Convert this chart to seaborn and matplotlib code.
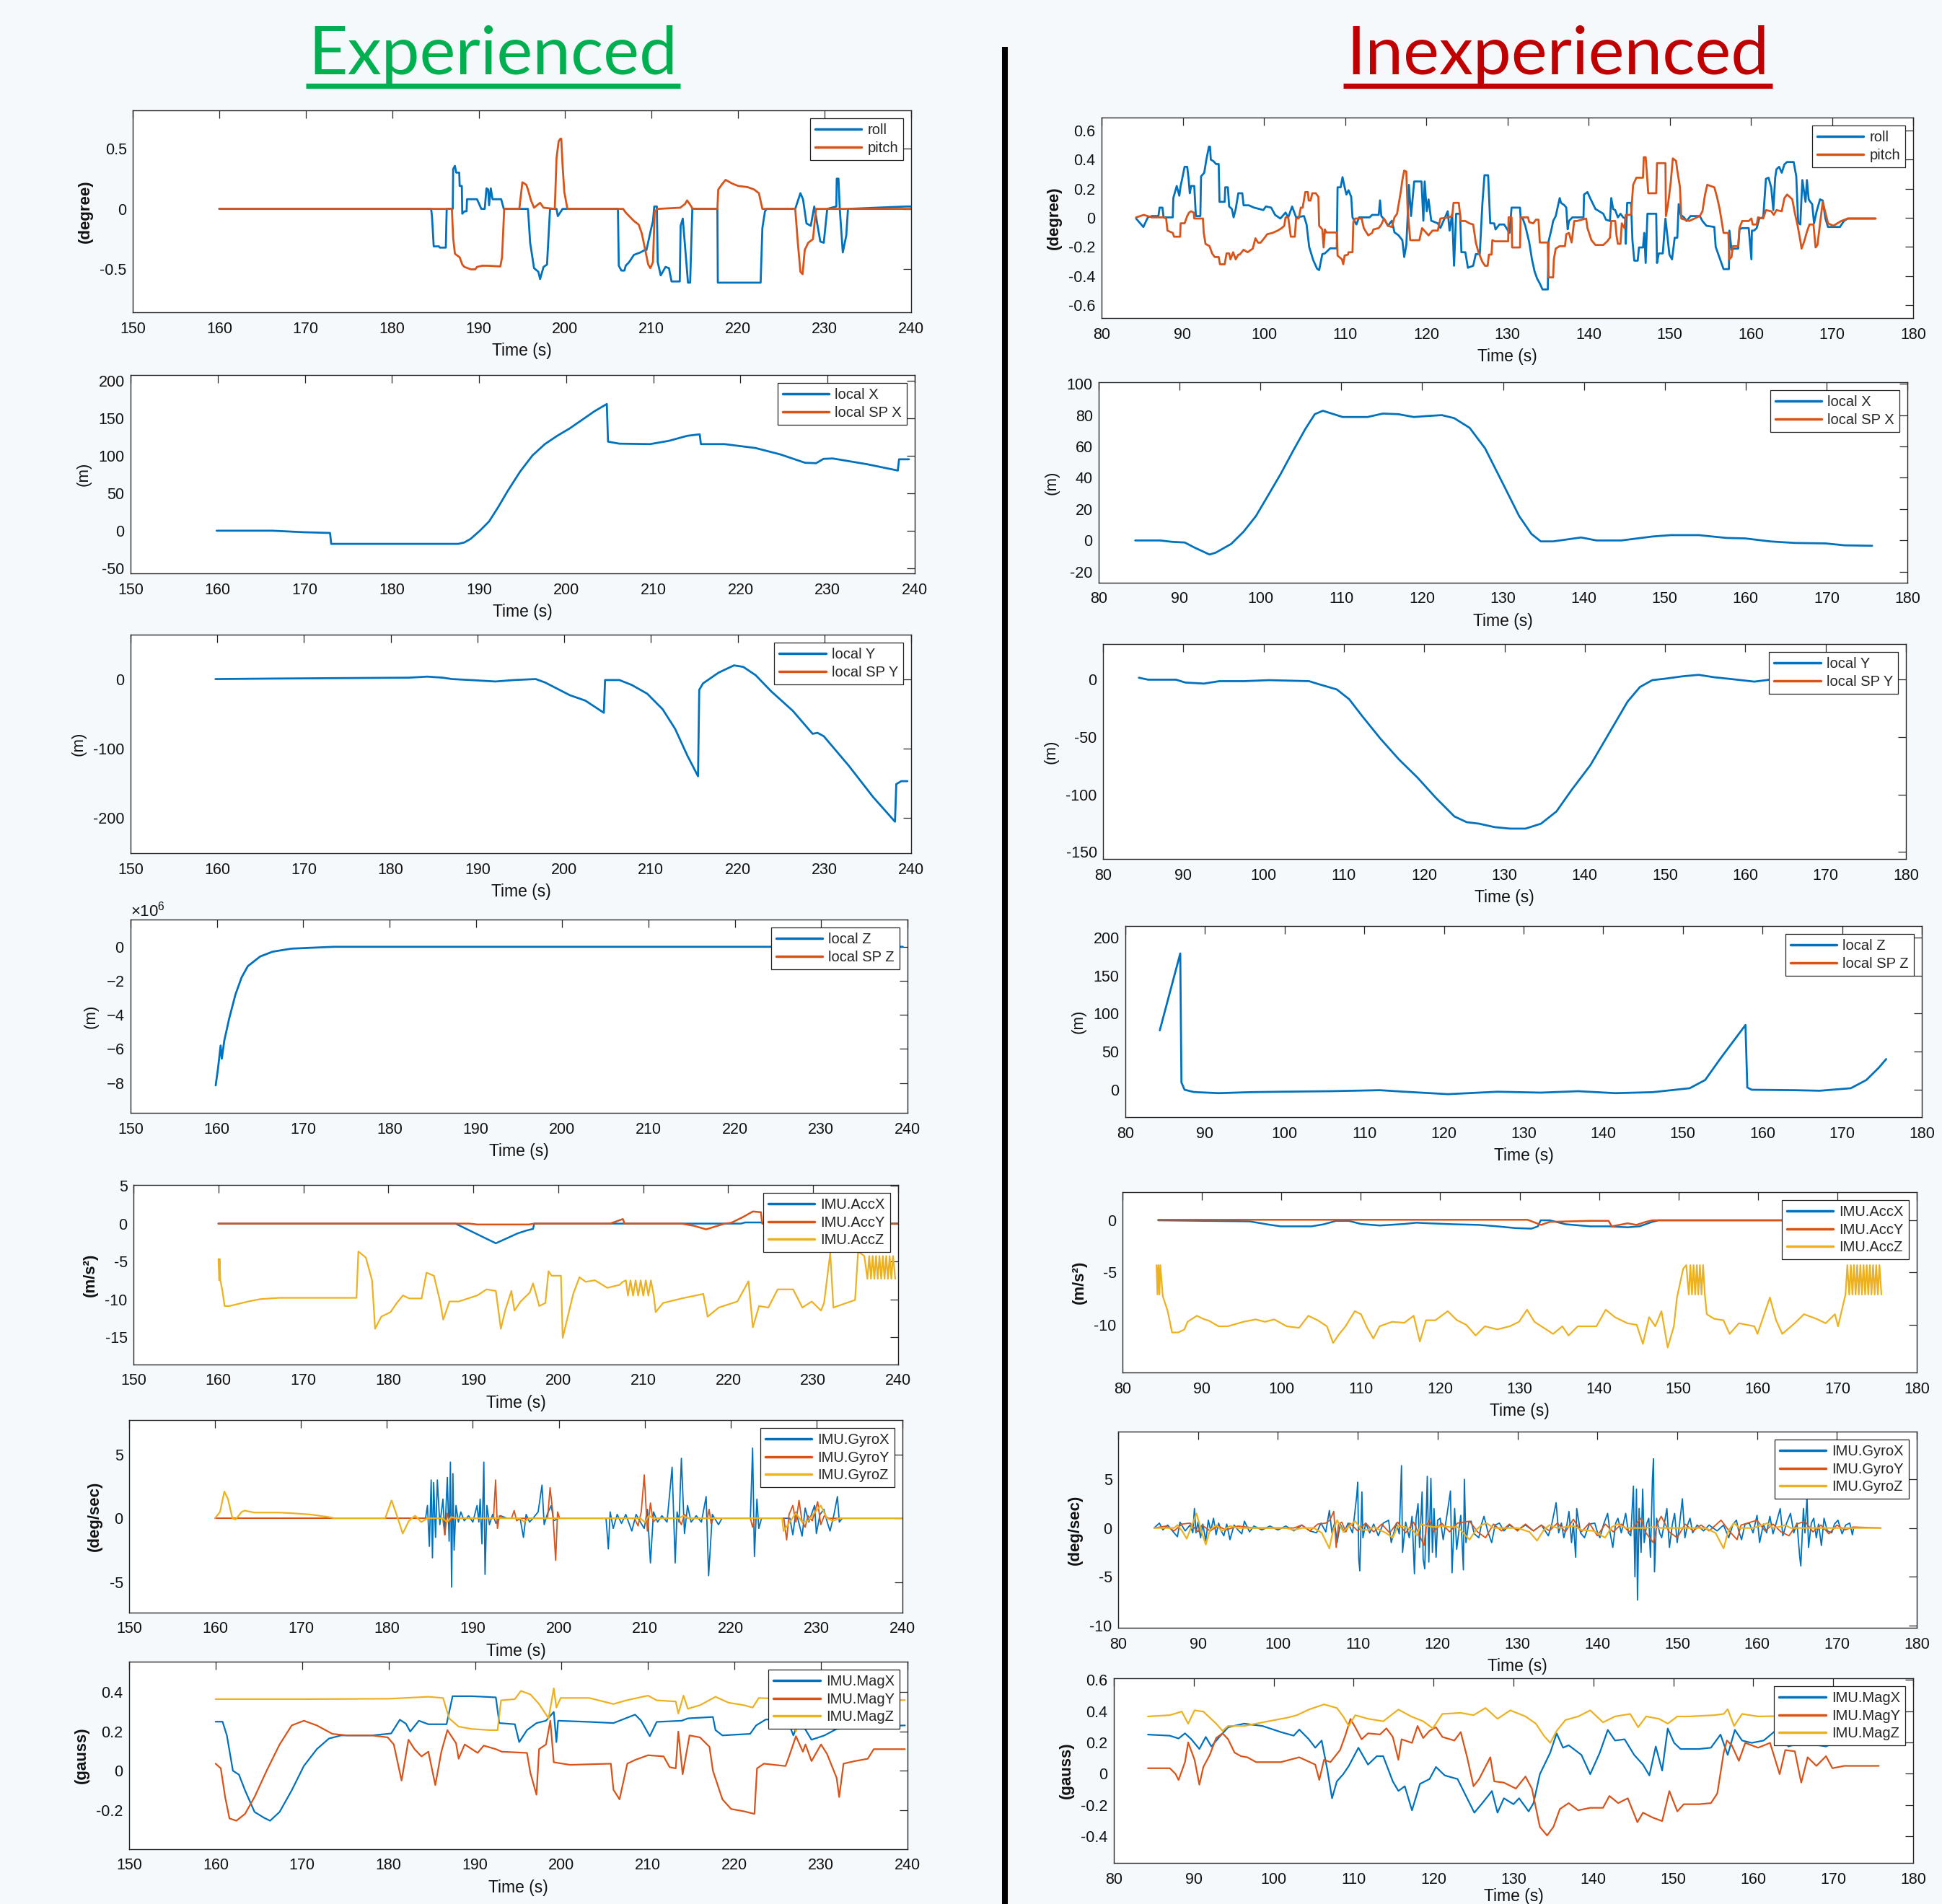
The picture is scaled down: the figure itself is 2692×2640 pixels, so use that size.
import numpy as np
import pandas as pd
import matplotlib
matplotlib.use("Agg")
import matplotlib.pyplot as plt
from matplotlib.lines import Line2D
from matplotlib.ticker import FuncFormatter, ScalarFormatter
import seaborn as sns

# ---------------- data (time s, value) ----------------
exp_roll = [(160,0),(184.5,0),(184.6,-0.06),(184.8,-0.31),(185.4,-0.31),(185.5,-0.32),(186.2,-0.32),(186.3,0),(187.0,0),(187.05,0.33),(187.25,0.356),(187.4,0.30),(187.75,0.30),(187.8,0.19),(188.05,0.19),(188.1,-0.04),(188.35,-0.02),(188.6,-0.02),(188.65,0.08),(189.8,0.08),(190.0,0.05),(190.3,0.0),(190.7,0.0),(190.9,0.17),(191.1,0.16),(191.2,0.03),(191.4,0.17),(191.6,0.08),(192.6,0.08),(192.9,0.0),(195.7,0),(195.95,-0.28),(196.4,-0.49),(196.9,-0.52),(197.1,-0.58),(197.5,-0.48),(197.9,-0.46),(198.25,0),(199.0,0),(199.15,-0.06),(199.7,0),(206.1,0),(206.2,-0.47),(206.5,-0.51),(206.85,-0.51),(207.0,-0.47),(207.4,-0.44),(207.95,-0.38),(208.7,-0.36),(209.2,-0.34),(209.4,-0.34),(209.95,-0.16),(210.15,-0.10),(210.3,0.02),(210.6,0.02),(210.7,-0.44),(211.05,-0.55),(211.6,-0.48),(212.0,-0.49),(212.3,-0.6),(213.25,-0.6),(213.35,-0.14),(213.6,-0.08),(214.2,-0.61),(214.45,-0.61),(214.7,0),(217.6,0),(217.65,-0.61),(222.6,-0.61),(222.8,-0.16),(223.1,-0.02),(223.3,0),(226.6,0),(227.2,0.13),(227.5,0.08),(227.9,-0.12),(228.4,-0.14),(228.8,0.02),(229.5,-0.27),(229.9,-0.28),(230.3,0),(231.35,0.02),(231.4,0.25),(231.6,0.25),(231.75,0),(232.1,-0.36),(232.5,-0.22),(232.7,0),(239.4,0.02),(240,0.02)]
exp_pitch = [(160,0),(186.9,0),(187.05,-0.24),(187.25,-0.37),(187.6,-0.39),(187.8,-0.40),(188.1,-0.46),(188.35,-0.48),(189.1,-0.50),(189.6,-0.50),(189.8,-0.48),(190.4,-0.47),(191.1,-0.47),(192.5,-0.476),(192.7,-0.40),(192.95,0),(194.7,0),(195.05,0.22),(195.5,0.20),(195.7,0.16),(196.05,0.07),(196.4,0.01),(197.1,0.05),(197.5,0.01),(198.8,0),(199.0,0.42),(199.25,0.56),(199.45,0.58),(199.55,0.58),(199.7,0.36),(199.9,0.14),(200.26,0),(206.7,0),(207.0,-0.03),(207.4,-0.06),(207.95,-0.10),(208.5,-0.13),(208.85,-0.20),(209.2,-0.32),(209.6,-0.46),(209.85,-0.49),(210.15,-0.44),(210.35,-0.02),(210.7,0),(213.3,0.01),(213.85,0.04),(214.1,0.07),(214.4,0.04),(214.75,0),(217.6,0),(217.7,0.16),(218.2,0.21),(218.55,0.24),(219.3,0.21),(220.0,0.19),(221.1,0.18),(221.85,0.16),(222.4,0.13),(222.8,0),(226.6,0),(226.9,-0.28),(227.2,-0.52),(227.45,-0.54),(227.7,-0.34),(228.1,-0.28),(228.65,-0.25),(229.0,0),(240,0)]

inx_roll = [(84.25,-0.005),(85.15,-0.063),(85.7,0.003),(86.2,0.012),(87.0,0.012),(87.15,0.07),(87.5,0.07),(87.64,0.003),(88.77,0.003),(88.84,0.136),(89.26,0.219),(89.58,0.152),(89.74,0.219),(89.9,0.26),(90.23,0.351),(90.55,0.351),(90.71,0.276),(90.87,0.169),(91.03,0.219),(91.42,0.219),(91.62,0.012),(92.17,0.012),(92.26,0.285),(92.65,0.31),(92.91,0.40),(93.23,0.49),(93.36,0.49),(93.46,0.40),(93.78,0.39),(94.11,0.37),(94.43,0.37),(94.53,0.11),(95.17,0.11),(95.24,0.21),(95.56,0.21),(95.72,0.078),(96.05,0.061),(96.27,0.003),(96.53,0.061),(96.85,0.169),(97.34,0.169),(97.5,0.086),(98.15,0.086),(98.79,0.07),(99.44,0.061),(99.93,0.053),(100.25,0.078),(100.9,0.07),(101.38,0.02),(102.03,-0.005),(102.67,0.036),(103.0,0.003),(103.48,0.078),(103.97,0.003),(104.94,0.012),(105.26,-0.046),(105.58,-0.2),(106.07,-0.29),(106.55,-0.35),(106.81,-0.36),(107.2,-0.25),(107.52,-0.245),(108.17,-0.21),(108.98,-0.21),(109.08,0.21),(109.46,0.21),(109.69,0.28),(109.95,0.21),(110.17,0.16),(110.43,0.19),(110.76,0.144),(110.92,0.003),(111.4,-0.046),(111.73,0.003),(113.02,0.003),(113.34,0.02),(114.15,0.02),(114.31,0.12),(114.47,0.012),(114.96,-0.02),(115.28,-0.055),(115.77,-0.02),(116.09,-0.10),(116.58,-0.12),(117.06,-0.154),(117.29,-0.27),(117.55,-0.187),(117.71,0.003),(117.87,0.227),(118.13,0.012),(118.52,0.25),(119.42,0.25),(119.65,-0.02),(119.81,0.25),(120.07,0.045),(120.29,0.127),(120.62,-0.02),(121.43,-0.038),(121.75,-0.07),(122.65,0.045),(122.88,-0.088),(123.2,0.028),(123.43,-0.33),(123.69,0.028),(124.17,0.028),(124.34,-0.237),(124.82,-0.237),(125.14,-0.344),(125.79,-0.33),(126.11,-0.25),(126.6,-0.25),(126.92,0.094),(127.18,0.293),(127.63,0.293),(127.89,-0.038),(128.38,-0.038),(128.54,-0.08),(129.02,-0.046),(129.61,-0.046),(130.26,-0.104),(130.52,0.07),(131.56,0.07),(131.63,0.003),(131.89,-0.005),(132.21,-0.055),(132.7,-0.17),(133.03,-0.286),(133.36,-0.37),(133.68,-0.42),(134.0,-0.452),(134.33,-0.493),(134.98,-0.493),(135.08,-0.162),(135.47,-0.071),(135.64,-0.022),(135.96,0.012),(136.45,0.136),(136.61,0.103),(137.04,0.086),(137.26,0.07),(137.43,-0.079),(137.59,-0.022),(138.01,0.003),(139.38,0.003),(139.45,0.16),(139.87,0.177),(140.2,0.136),(140.85,0.061),(141.82,0.028),(142.15,-0.013),(142.64,-0.022),(142.8,0.136),(143.03,0.061),(143.29,0.053),(143.62,0.003),(143.94,0.028),(144.27,0.003),(144.53,-0.005),(144.59,-0.179),(144.76,0.103),(145.24,0.103),(145.41,-0.154),(145.64,-0.295),(146.06,-0.295),(146.22,-0.204),(146.71,-0.204),(146.87,-0.104),(147.04,-0.311),(147.26,0.028),(148.34,0.028),(148.44,-0.311),(148.66,-0.245),(149.15,-0.245),(149.48,-0.005),(149.97,-0.253),(150.29,-0.286),(150.62,-0.137),(150.94,-0.137),(151.11,0.094),(151.37,0.02),(151.76,0.003),(152.08,-0.022),(152.57,0.012),(153.71,0.012),(154.04,-0.022),(154.53,-0.055),(155.5,-0.063),(155.67,-0.2),(156.64,-0.353),(157.3,-0.353),(157.36,-0.088),(157.62,-0.22),(157.95,-0.212),(158.44,-0.212),(158.6,-0.079),(158.93,-0.071),(159.74,-0.071),(160.07,-0.286),(160.13,-0.088),(160.39,-0.088),(160.72,-0.071),(161.04,-0.005),(161.53,0.003),(161.86,0.268),(162.18,0.276),(162.51,0.21),(162.77,0.053),(163.0,0.276),(163.16,0.334),(163.49,0.351),(163.81,0.31),(164.14,0.368),(164.46,0.384),(165.28,0.384),(165.6,0.285),(165.83,-0.03),(166.09,-0.046),(166.35,0.26),(166.74,0.11),(166.91,0.26),(167.13,0.127),(167.33,0.11),(167.56,0.094),(167.79,-0.038),(168.11,0.045),(168.53,0.127),(168.86,0.119),(169.19,-0.005),(169.51,-0.063),(170.98,-0.063),(171.47,-0.022),(171.95,-0.005),(175.37,-0.005)]
inx_pitch = [(84.25,0.003),(85.21,0.02),(86.18,0.003),(87.64,0.003),(87.96,-0.005),(88.12,-0.088),(88.77,-0.104),(88.93,-0.13),(89.68,-0.13),(89.74,-0.038),(90.23,-0.038),(90.55,0.012),(90.78,0.036),(91.03,0.045),(91.36,0.036),(91.42,-0.005),(92.49,-0.005),(92.59,-0.104),(92.81,-0.18),(93.3,-0.195),(93.62,-0.245),(93.94,-0.27),(94.43,-0.27),(94.59,-0.32),(95.17,-0.32),(95.4,-0.245),(95.72,-0.245),(95.88,-0.286),(96.21,-0.237),(96.53,-0.286),(96.85,-0.253),(97.02,-0.253),(97.5,-0.22),(97.99,-0.237),(98.63,-0.212),(98.96,-0.141),(99.28,-0.171),(99.6,-0.171),(100.09,-0.137),(100.41,-0.113),(101.06,-0.104),(101.7,-0.088),(102.19,-0.071),(102.51,-0.055),(102.67,0.003),(103.0,0.003),(103.32,-0.13),(103.81,-0.13),(103.97,-0.005),(104.29,-0.005),(104.55,0.07),(104.78,0.07),(105.1,0.177),(105.42,0.177),(105.52,0.119),(105.75,0.119),(105.97,0.169),(106.39,0.169),(106.72,0.144),(106.81,-0.055),(107.2,-0.08),(107.36,-0.204),(107.52,-0.08),(107.69,-0.101),(108.98,-0.101),(109.08,-0.26),(109.62,-0.286),(109.78,-0.32),(109.95,-0.26),(110.37,-0.253),(110.43,-0.237),(110.92,-0.237),(111.02,-0.03),(111.24,-0.005),(112.05,-0.005),(112.31,-0.071),(112.86,-0.121),(113.34,-0.104),(113.5,-0.08),(114.15,-0.071),(114.47,-0.046),(114.8,-0.005),(115.28,-0.055),(115.77,-0.063),(116.09,0.003),(116.41,0.028),(116.9,0.19),(117.06,0.26),(117.29,0.325),(117.55,0.318),(117.71,0.061),(118.03,-0.154),(119.16,-0.154),(119.49,-0.071),(120.29,-0.121),(120.78,-0.088),(121.43,-0.088),(121.75,-0.005),(122.72,0.003),(123.2,0.012),(123.37,0.103),(124.01,0.103),(124.27,-0.022),(124.82,-0.022),(125.31,-0.038),(125.79,-0.046),(126.11,-0.17),(126.44,-0.237),(126.92,-0.303),(127.25,-0.33),(127.57,-0.33),(127.73,-0.253),(128.05,-0.253),(128.15,-0.154),(128.47,-0.162),(130.1,-0.162),(130.15,0.003),(130.52,0.003),(130.59,-0.204),(131.56,-0.204),(131.63,0.003),(132.54,0.003),(132.7,-0.03),(133.19,-0.038),(133.52,-0.013),(133.84,-0.013),(134.0,-0.17),(134.98,-0.17),(135.08,-0.41),(135.64,-0.41),(135.73,-0.286),(135.96,-0.212),(136.45,-0.195),(137.1,-0.195),(137.26,-0.113),(137.59,-0.104),(137.92,-0.17),(138.24,-0.022),(138.57,-0.022),(139.71,-0.005),(139.87,-0.071),(140.36,-0.154),(140.85,-0.187),(141.82,-0.187),(142.31,-0.162),(142.64,-0.137),(142.8,-0.022),(143.29,-0.022),(143.45,-0.121),(143.62,-0.179),(143.94,-0.179),(144.1,-0.038),(144.43,-0.071),(144.59,0.02),(145.24,0.02),(145.5,0.227),(145.9,0.276),(146.71,0.276),(146.81,0.417),(147.04,0.417),(147.2,0.30),(147.36,0.169),(148.34,0.169),(148.44,0.376),(149.48,0.376),(149.54,0.012),(149.8,0.094),(150.13,0.243),(150.39,0.409),(150.78,0.392),(150.94,0.326),(151.27,0.21),(151.43,-0.005),(152.41,-0.022),(153.06,-0.005),(153.71,0.012),(154.04,0.045),(154.36,0.16),(154.63,0.227),(155.5,0.21),(155.83,0.144),(156.16,0.061),(156.64,-0.104),(157.23,-0.104),(157.36,-0.286),(157.62,-0.27),(157.79,-0.195),(158.44,-0.195),(158.6,-0.071),(158.93,-0.022),(159.74,-0.022),(160.07,-0.005),(160.23,-0.046),(160.72,-0.046),(160.88,0.003),(161.53,-0.005),(161.86,0.053),(162.51,0.045),(162.83,0.02),(163.16,0.053),(163.81,0.045),(164.14,0.136),(164.46,0.16),(164.79,0.144),(165.11,0.127),(165.44,0.028),(165.77,-0.055),(166.09,-0.154),(166.25,-0.212),(166.58,-0.162),(166.91,-0.096),(167.23,-0.046),(167.72,-0.046),(167.98,-0.204),(168.21,-0.187),(168.53,-0.038),(168.86,0.11),(169.19,0.036),(169.51,-0.038),(170.16,-0.055),(171.14,-0.022),(171.95,-0.005),(175.37,-0.005)]

exp_localx = [(159.88,0),(166.28,0),(169.83,-2),(172.89,-3),(173.03,-17.6),(187.6,-17.6),(188.31,-15.7),(189.02,-11),(190.09,0),(191.15,12.4),(192.22,32),(193.28,53),(194.71,79),(196.13,100.6),(197.55,115.7),(198.97,126.8),(200.39,136.6),(201.81,148),(203.23,159.5),(204.66,169.3),(204.8,119),(206.08,116.3),(209.63,115.7),(211.76,120),(213.9,126.8),(215.32,128.8),(215.46,115.7),(218.16,115.7),(221.71,110.5),(224.56,102),(227.4,90.8),(228.68,90.2),(229.53,96),(230.6,96.5),(234.5,88.9),(238.06,80.4),(238.2,95.4),(239.34,95.4)]
exp_localy = [(159.79,0),(166.36,0.7),(182.07,2),(184.21,3.5),(186.0,2),(187.07,0),(189.21,-1.4),(192.07,-3.5),(194.21,-1.4),(196.71,0),(197.79,-4.9),(199.21,-14),(200.64,-23.2),(202.43,-31),(204.57,-48.6),(204.71,-1.4),(206.36,-1.4),(207.79,-8.5),(209.57,-21.1),(211.36,-43.7),(212.79,-71.8),(214.21,-110.6),(215.43,-140.1),(215.57,-15.5),(216.0,-6.3),(217.79,9.2),(219.57,19.7),(220.64,17.6),(222.07,5.6),(223.86,-17.6),(226.36,-45.8),(228.64,-78.9),(229.21,-77.5),(229.93,-82.4),(232.79,-124.6),(235.64,-170.4),(238.14,-205.6),(238.29,-151.4),(238.86,-147.2),(239.57,-147.2)]
exp_localz = [(159.86,-8.14e6),(160.14,-7.1e6),(160.43,-5.8e6),(160.57,-6.57e6),(160.86,-5.5e6),(161.43,-4.2e6),(162.15,-2.8e6),(162.86,-1.8e6),(163.58,-1.14e6),(165.01,-0.57e6),(166.44,-0.29e6),(168.59,-0.11e6),(172.17,-0.03e6),(173.6,0),(239.46,0)]

inx_localx = [(84.52,0),(87.58,0),(89.11,-0.9),(90.64,-1.3),(91.79,-4.4),(93.71,-9),(94.47,-7.8),(96.39,-2.2),(97.92,5.6),(99.45,15.6),(100.98,29),(102.51,42.5),(104.04,57.2),(105.57,71.3),(106.72,80.6),(107.72,82.8),(108.64,81.3),(110.17,78.8),(113.23,78.8),(115.15,81),(117.06,80.6),(118.97,78.8),(120.51,79.4),(122.42,80),(123.95,78.1),(125.87,71.9),(127.78,58.8),(130.08,35.3),(131.99,15.6),(133.52,4.1),(134.67,-0.6),(136.2,-0.6),(139.65,1.9),(141.56,0),(144.63,0),(148.45,2.5),(150.75,3.4),(154.2,3.4),(157.64,1.6),(159.94,1.3),(163.0,-0.6),(166.06,-1.6),(169.89,-1.9),(172.19,-3.1),(175.64,-3.4)]
inx_localy = [(84.47,1.7),(85.62,0),(89.09,0),(90.25,-2.5),(92.56,-3.4),(94.48,-1.3),(97.57,-1.3),(100.65,-0.4),(105.66,-1.3),(106.81,-3.8),(109.12,-8.5),(110.66,-17),(112.2,-31),(114.51,-51),(116.83,-69.2),(119.14,-85),(121.45,-102.8),(123.76,-119),(125.3,-124),(126.84,-125.3),(128.77,-128.3),(130.69,-129.6),(132.62,-129.6),(134.55,-125.3),(136.47,-114.7),(138.4,-95.6),(140.71,-74.3),(143.02,-46.7),(145.33,-19.1),(146.87,-6.4),(148.41,-0.4),(149.95,0.8),(152.27,3),(154.19,4.2),(156.12,2.1),(158.43,0.4),(161.12,-1.7),(163.05,0),(164.59,1.3),(168.0,0.5),(172.0,-1.0),(175.5,-0.5)]
inx_localz = [(84.32,78),(86.89,179),(87.04,9.6),(87.43,0),(88.6,-3),(91.71,-4.5),(95.6,-3.2),(99.49,-2.6),(105.72,-1.9),(111.95,-0.6),(115.06,-2.6),(120.51,-5.8),(126.73,-2.6),(132.18,-3.8),(136.85,-1.9),(141.52,-4.5),(146.19,-3.2),(150.86,2),(152.8,12.8),(154.75,41.5),(157.86,85),(158.09,3),(158.64,0),(164.09,-0.6),(167.2,-1.3),(171.09,2),(173.04,12.8),(174.59,28.8),(175.53,40.3)]

exp_accx = [(160,0),(187.9,0),(192.65,-2.6),(195.2,-1.3),(196.3,-0.9),(197.03,-0.7),(197.17,0),(221.5,0),(222.0,0.15),(224.0,0.15),(224.1,0),(240,0)]
exp_accy = [(160,0),(189.5,0),(190.5,-0.12),(196.5,-0.12),(197.2,0),(206.1,0),(207.6,0.6),(207.8,0),(214.5,0),(216.0,-0.3),(217.4,-0.76),(219.6,0),(220.35,0.1),(221.8,0.9),(222.9,1.6),(223.85,1.5),(224.0,0),(240,0)]
exp_accz = [(160.0,-4.68),(160.1,-7.48),(160.15,-4.68),(160.22,-7.48),(160.44,-8.68),(160.73,-10.88),(161.31,-10.88),(162.04,-10.68),(163.5,-10.28),(164.96,-9.96),(167.14,-9.8),(170.79,-9.8),(176.25,-9.8),(176.47,-3.68),(177.35,-4.48),(178.08,-7.48),(178.44,-13.88),(179.17,-12.28),(180.26,-11.68),(180.99,-10.48),(181.72,-9.48),(182.45,-9.88),(183.91,-9.88),(184.49,-6.48),(185.36,-6.88),(186.09,-10.28),(186.46,-12.68),(187.19,-10.28),(188.28,-10.28),(190.47,-9.48),(191.56,-8.68),(192.65,-8.88),(193.24,-13.88),(193.75,-11.48),(194.48,-8.88),(194.84,-11.48),(195.57,-10.28),(196.66,-9.08),(197.03,-7.88),(197.76,-10.88),(198.48,-10.48),(198.85,-6.28),(199.21,-6.88),(200.31,-6.88),(200.52,-15.08),(201.03,-12.68),(201.76,-9.28),(202.49,-7.08),(203.22,-7.68),(204.31,-7.48),(205.77,-8.48),(207.23,-8.08),(207.59,-7.68),(207.96,-7.5),(208.2,-9.5),(208.5,-7.5),(208.8,-9.5),(209.1,-7.5),(209.4,-9.5),(209.7,-7.5),(210.0,-9.5),(210.3,-7.5),(210.6,-9.5),(210.9,-7.5),(211.24,-9.5),(211.46,-11.68),(212.33,-10.48),(214.52,-9.88),(217.07,-9.28),(217.58,-12.28),(218.89,-11.08),(221.08,-10.28),(222.39,-7.6),(222.9,-13.68),(223.63,-10.88),(224.72,-11.08),(225.82,-8.68),(227.64,-8.68),(228.73,-11.08),(229.83,-10.28),(230.92,-11.48),(231.28,-10.48),(232.01,-3.88),(232.38,-11.08),(234.93,-10.08),(235.29,-3.68),(236.02,-4.28),(236.38,-7.28),(236.6,-4.28),(236.8,-7.28),(237.0,-4.28),(237.2,-7.28),(237.4,-4.28),(237.6,-7.28),(237.8,-4.28),(238.0,-7.28),(238.2,-4.28),(238.4,-7.28),(238.6,-4.28),(238.8,-7.28),(239.0,-4.28),(239.2,-7.28),(239.4,-4.28),(239.66,-7.28)]

inx_accx = [(84.5,0),(96.0,-0.1),(98.3,-0.4),(99.9,-0.58),(103.8,-0.58),(105.35,-0.38),(106.9,-0.05),(108.5,-0.05),(110.0,-0.35),(112.4,-0.5),(115.5,-0.35),(117.0,-0.23),(118.6,-0.29),(121.7,-0.38),(124.85,-0.44),(127.2,-0.58),(129.5,-0.75),(131.5,-0.8),(132.3,-0.58),(132.65,0),(133.8,0),(135.8,-0.38),(138.9,-0.58),(141.2,-0.58),(143.6,-0.67),(145.1,-0.58),(146.7,-0.15),(147.5,0),(175.5,0)]
inx_accy = [(84.5,0.05),(131.0,0.05),(132.7,-0.44),(133.8,-0.15),(138.9,-0.05),(141.2,-0.05),(141.6,-0.58),(143.6,-0.29),(144.7,-0.44),(145.9,-0.15),(146.7,0),(175.5,0)]
inx_accz = [(84.29,-4.3),(84.4,-7.12),(84.52,-4.3),(84.65,-7.12),(84.76,-4.3),(85.07,-7.27),(85.69,-8.72),(86.24,-10.76),(87.02,-10.76),(87.8,-10.47),(88.19,-9.74),(89.36,-9.16),(90.14,-9.45),(90.92,-9.65),(92.09,-10.17),(93.26,-10.17),(95.21,-9.74),(96.77,-9.51),(97.94,-9.74),(99.11,-9.51),(100.67,-10.17),(102.23,-10.32),(103.4,-9.16),(104.57,-9.59),(105.74,-10.17),(106.52,-11.77),(107.3,-10.9),(108.08,-10.17),(109.25,-8.72),(110.03,-9.01),(110.81,-10.32),(111.59,-11.34),(112.37,-10.17),(113.93,-9.74),(115.49,-9.83),(116.66,-9.16),(117.44,-11.63),(118.22,-9.59),(119.39,-9.59),(120.95,-8.72),(122.12,-9.59),(123.29,-10.03),(124.46,-11.05),(125.63,-10.17),(127.19,-10.47),(128.75,-10.17),(129.92,-9.74),(130.94,-8.58),(131.87,-9.74),(133.04,-10.32),(134.21,-10.9),(135.38,-10.17),(136.16,-11.05),(137.33,-10.17),(139.67,-10.17),(140.84,-8.58),(142.01,-9.3),(143.57,-9.88),(144.74,-10.03),(145.52,-11.86),(146.3,-9.3),(147.08,-10.17),(147.86,-8.72),(148.64,-12.21),(149.42,-10.17),(149.81,-7.41),(150.59,-4.65),(150.98,-4.3),(151.3,-7.12),(151.5,-4.3),(151.7,-7.12),(151.9,-4.3),(152.1,-7.12),(152.31,-4.3),(152.5,-7.12),(152.7,-4.3),(152.9,-7.12),(153.1,-4.3),(153.32,-7.12),(153.56,-9.01),(154.49,-9.45),(155.66,-9.59),(156.44,-10.9),(157.61,-9.88),(159.56,-10.17),(159.95,-10.9),(161.51,-7.41),(162.29,-9.59),(163.07,-10.9),(164.63,-9.88),(165.8,-9.01),(167.36,-9.45),(168.53,-9.88),(169.7,-9.01),(170.09,-10.17),(171.03,-7.12),(171.26,-4.3),(171.5,-7.12),(171.7,-4.3),(171.9,-7.12),(172.1,-4.3),(172.3,-7.12),(172.5,-4.3),(172.7,-7.12),(172.9,-4.3),(173.1,-7.12),(173.3,-4.3),(173.5,-7.12),(173.7,-4.3),(173.9,-7.12),(174.1,-4.3),(174.3,-7.12),(174.5,-4.3),(174.7,-7.12),(174.9,-4.3),(175.1,-7.12),(175.3,-4.3),(175.55,-7.12)]

exp_gyrox = [(160,0),(184.5,0),(184.72,1.0),(184.94,-2.2),(185.15,3.0),(185.3,-3.1),(185.44,2.8),(185.66,-1.5),(185.87,3.0),(186.16,-0.5),(186.52,1.5),(186.74,-1.3),(187.03,3.2),(187.24,-1.8),(187.39,4.4),(187.53,-5.4),(187.68,3.5),(187.82,-2.5),(188.04,1.0),(188.32,-0.3),(188.6,0.5),(189.0,-0.2),(189.5,0.2),(190.0,-0.3),(190.49,1.0),(190.7,-0.3),(190.85,1.5),(191.06,-2.0),(191.28,4.4),(191.42,-4.4),(191.64,1.0),(191.93,-0.5),(192.3,0.3),(192.7,-0.4),(193.2,0.2),(194.0,0),(195.5,0),(195.89,-1.5),(196.2,0.3),(196.6,-0.3),(197.0,0),(197.6,0.5),(198.05,2.6),(198.3,-0.5),(198.7,0.4),(199.13,1.0),(199.4,-0.2),(200.0,0),(205.5,0),(205.77,-2.4),(205.98,0.5),(206.34,-0.8),(206.8,0.3),(207.3,-0.4),(207.8,0.3),(208.5,-1.0),(209.0,0.3),(209.5,-0.3),(209.95,-0.8),(210.31,0.7),(210.67,-3.5),(211.03,0.5),(211.5,-0.3),(212.0,0.2),(212.6,-0.3),(213.19,4.0),(213.55,-3.5),(213.77,0.5),(214.0,-0.3),(214.27,4.7),(214.63,-1.2),(214.99,1.0),(215.4,-0.3),(216.0,0.2),(216.6,-0.3),(217.15,1.7),(217.44,-4.5),(217.87,0.3),(218.59,-0.5),(219.0,0),(222.3,0),(222.56,5.5),(222.77,-3.0),(223.06,1.5),(223.28,-0.8),(223.6,0),(226.9,0),(227.24,-1.3),(227.6,0.5),(227.96,-0.4),(228.32,-1.4),(228.68,0.8),(229.1,-0.3),(229.77,1.0),(229.98,-1.2),(230.4,0.3),(230.85,0.7),(231.2,-0.2),(231.57,-1.0),(232.0,0.2),(232.43,1.7),(232.65,-0.3),(233.0,0),(240,0)]
exp_gyroy = [(160,0),(186.5,0),(186.74,-1.3),(187.0,0.4),(187.3,-0.3),(187.6,0),(192.4,0),(192.65,3.0),(192.86,-0.8),(193.1,0.2),(193.6,0),(194.5,0),(194.81,0.6),(195.1,-0.2),(195.5,0),(198.7,0),(198.99,2.4),(199.3,0.5),(199.64,-3.3),(199.86,0.5),(200.1,0),(208.8,0),(209.23,-0.6),(209.6,0.5),(209.95,3.4),(210.31,-1.0),(210.67,1.2),(211.0,-0.3),(211.4,0),(213.9,0),(214.27,-0.5),(214.63,0.3),(215.0,0),(217.3,0),(217.5,0.7),(217.73,-0.4),(218.0,0),(222.3,0),(222.56,-0.7),(222.8,0),(226.2,0),(226.52,-1.7),(226.8,0.3),(227.24,1.0),(227.6,-0.3),(227.96,1.4),(228.3,-0.2),(228.68,-0.7),(229.0,0.2),(229.5,-0.2),(230.13,1.3),(230.49,-0.5),(230.9,0.2),(231.4,0),(240,0)]
exp_gyroz = [(160,0),(160.58,0.5),(161.08,2.1),(161.51,1.5),(162.02,0),(162.38,-0.1),(163.1,0.5),(163.46,0.6),(164.54,0.45),(167.42,0.45),(168.86,0.4),(171.03,0.3),(173.19,0.1),(173.91,0),(179.8,0),(180.54,1.4),(181.12,0.3),(181.84,-1.2),(182.56,-0.2),(183.28,0.2),(184.0,-0.3),(184.72,0),(186.5,0),(187.0,-0.3),(187.5,0.1),(188.0,0),(195.5,0),(196.0,-0.3),(196.5,0),(209.5,0),(210.0,-0.3),(210.5,0.2),(211.0,0),(214.0,0),(214.5,0.2),(215.0,0),(226.0,0),(226.16,-1.0),(226.88,-0.3),(227.6,0.4),(228.32,-0.3),(229.05,-0.2),(229.6,0.3),(230.49,1.0),(231.21,0),(231.93,-0.2),(232.65,0),(240,0)]

inx_gyrox = [(84.5,0),(85.16,0.5),(85.6,-0.2),(86.2,0.3),(86.8,-0.3),(87.42,-0.9),(87.74,0.6),(88.39,-0.3),(89.0,0.3),(89.35,-0.5),(89.55,2.0),(89.74,-0.5),(90.0,0.6),(90.32,-1.0),(90.6,0.4),(90.97,-1.3),(91.29,0.8),(91.6,-0.3),(91.94,1.0),(92.26,-0.7),(92.58,0.5),(92.9,-0.3),(93.23,-0.8),(93.6,0.4),(94.0,-1.2),(94.52,0.3),(95.0,-0.2),(95.48,-0.6),(95.81,0.7),(96.45,-0.4),(97.0,0.2),(98.0,-0.2),(99.0,0.2),(100.0,-0.2),(101.0,0.2),(102.0,-0.3),(103.0,0.3),(104.0,-0.3),(104.84,-0.5),(105.4,0.5),(106.0,-0.4),(106.45,1.8),(106.77,-0.5),(107.1,0.5),(107.42,-1.5),(107.8,0.4),(108.3,-0.4),(108.8,0.5),(109.35,-0.5),(109.87,3.3),(110.0,4.7),(110.13,-3.2),(110.26,-4.4),(110.52,3.7),(110.65,-1.0),(111.0,0.5),(111.5,-0.5),(112.0,0.4),(112.58,-0.8),(113.2,0.5),(113.87,0.8),(114.19,-1.5),(114.84,0.5),(115.2,-0.6),(115.48,6.4),(115.61,-2.5),(116.0,0.6),(116.45,-1.0),(116.8,1.2),(117.1,-4.7),(117.3,1.0),(117.55,2.5),(117.74,-2.0),(118.06,3.7),(118.19,-3.2),(118.39,-4.2),(118.71,5.3),(118.9,-3.5),(119.16,5.1),(119.35,-2.5),(119.55,2.0),(119.81,-3.0),(120.0,0.8),(120.32,1.0),(120.7,-1.2),(121.2,1.5),(121.61,3.8),(121.81,-4.6),(122.13,2.0),(122.39,-2.2),(122.9,1.3),(123.23,-4.3),(123.35,5.0),(123.55,-1.5),(123.9,0.6),(124.19,0.7),(124.6,-0.6),(125.16,-1.0),(125.5,0.4),(125.81,1.2),(126.3,-0.4),(126.77,-1.5),(127.2,0.3),(127.74,0.5),(128.3,-0.3),(129.0,0.3),(130.0,-0.2),(131.0,0.3),(132.0,-0.3),(133.0,0.3),(133.87,-0.8),(134.3,0.4),(134.84,2.6),(135.16,-0.5),(135.5,0.5),(135.81,-1.0),(136.2,0.4),(136.45,1.7),(136.77,-1.5),(137.0,0.5),(137.29,-3.0),(137.42,2.0),(137.9,-0.5),(138.39,-1.0),(139.0,0.4),(139.68,0.5),(140.0,-0.4),(140.32,-1.0),(140.8,0.4),(141.29,1.5),(141.6,-0.5),(141.94,-2.0),(142.3,0.5),(142.58,1.0),(143.0,-0.5),(143.55,1.5),(143.9,-0.5),(144.19,-0.8),(144.52,4.3),(144.71,-5.0),(144.9,4.0),(145.03,-7.4),(145.23,2.0),(145.48,-2.5),(145.68,4.0),(145.87,-1.5),(146.2,0.5),(146.45,1.0),(146.65,-3.0),(146.9,5.0),(147.03,7.1),(147.16,-4.5),(147.42,1.0),(147.8,-0.5),(148.06,-1.0),(148.4,0.5),(148.71,2.0),(149.03,-2.0),(149.4,0.4),(149.68,1.5),(150.0,-1.5),(150.3,0.4),(150.65,3.0),(150.97,-1.0),(151.3,0.3),(151.61,1.0),(151.94,-0.5),(152.5,0.3),(153.3,-0.3),(154.0,0.3),(155.0,-0.3),(155.8,0.3),(156.45,-1.0),(157.0,0.4),(157.42,0.8),(157.7,-0.3),(158.06,-1.2),(158.5,0.4),(159.03,0.5),(159.5,-0.5),(160.0,1.3),(160.32,-1.5),(160.8,0.4),(161.2,-0.5),(161.61,1.2),(162.0,-0.6),(162.4,0.5),(162.9,2.0),(163.23,-0.8),(163.7,0.5),(164.19,1.5),(164.6,-0.5),(165.0,0.5),(165.35,-3.0),(165.48,-3.9),(165.81,2.0),(166.0,-0.5),(166.26,3.2),(166.45,-2.0),(166.8,0.5),(167.1,1.0),(167.42,-1.0),(167.7,0.4),(168.06,-1.8),(168.39,1.0),(168.8,-0.3),(169.35,-0.5),(169.7,0.4),(170.13,0.8),(170.65,-0.6),(171.1,0.3),(171.61,0.5),(171.94,-0.7),(172.1,0)]
inx_gyroy = [(84.5,0),(86.0,0.2),(87.0,-0.3),(88.0,0.4),(89.0,0.5),(90.0,-0.4),(90.5,0.3),(91.5,-0.3),(92.5,0.2),(93.5,-0.2),(95.0,0.2),(97,0),(102,0),(103,0.3),(104.0,-0.3),(105.0,0.4),(106.0,0.5),(106.5,0.8),(107.0,1.7),(107.3,-2.0),(107.6,0.4),(108.0,0.6),(108.5,-0.4),(109.0,0.5),(110.0,-0.3),(111.0,0.5),(112.0,-0.4),(113.0,0.4),(114.0,-0.5),(115.0,0.6),(116.0,-0.5),(117.0,0.6),(118.3,-1.8),(118.6,0.3),(119.0,0.8),(119.5,-0.4),(120.5,0.5),(121.5,-0.4),(122.5,0.5),(124.0,0.7),(125.0,-0.4),(126.0,-1.0),(127.0,0.4),(128.0,-0.3),(129.0,0.4),(130.0,-0.3),(131.0,0.4),(132.0,-0.3),(133.0,0.3),(134.0,-0.3),(135.0,0.5),(136.0,-0.4),(137.0,0.9),(138.0,-0.4),(139.0,0.5),(140.0,-0.8),(141.0,0.4),(142.0,-0.4),(143.0,0.4),(144.0,-0.4),(145.5,1.0),(146.0,-0.4),(147.0,-1.5),(147.5,0.4),(148.0,1.2),(149.0,-0.4),(150.0,-1.0),(151.0,0.4),(152.0,-0.3),(153.0,0.3),(154.0,-0.3),(155.5,0.8),(156.5,-0.3),(157.5,-1.2),(158.0,0.3),(160.0,0.8),(161.0,-0.3),(162.0,0.4),(163.0,-0.4),(164.0,-0.8),(165.0,0.4),(166.0,0.7),(167.0,-0.4),(168.0,0.3),(169.0,-0.6),(170.0,0.3),(171.0,-0.2),(172.0,0.1),(175.5,0)]
inx_gyroz = [(84.5,0),(87.0,0),(87.42,0.3),(88.0,-0.3),(88.58,-1.1),(89.2,0.2),(89.81,1.5),(90.4,-0.3),(90.97,-1.7),(91.5,-0.2),(92.3,0.3),(93.0,-0.3),(94.0,0.2),(95.0,0),(101.0,0),(102.0,-0.2),(103.0,0),(104.5,0),(105.5,-0.5),(106.45,-2.1),(106.9,-0.3),(107.42,0.8),(108.2,-0.4),(108.8,0.1),(109.68,0.7),(110.5,-0.2),(111.3,-0.2),(112.0,0.1),(113.5,-0.5),(114.39,-1.0),(115.0,0.2),(116.0,0.1),(117.0,-0.3),(117.42,-0.8),(117.94,0.4),(118.7,0.2),(119.5,0.1),(120.5,0.2),(121.5,0.1),(122.5,0.1),(123.2,-0.5),(124.0,-1.2),(124.8,-0.2),(125.5,0.3),(126.13,0.5),(127.0,0),(130.0,0),(131.5,-0.4),(132.45,-1.3),(133.3,-0.2),(134.0,0.3),(135.0,0),(137.0,0.2),(138.0,-0.2),(139.5,-0.3),(140.97,-1.0),(141.8,0.1),(142.58,0.4),(143.5,0),(146.0,0),(147.0,0.1),(148.0,0),(153.5,0),(154.8,-0.5),(155.81,-2.1),(156.4,-0.3),(157.1,0.5),(157.8,0),(159.5,0),(160.3,0.2),(161.29,0.5),(162.0,0),(162.7,0.1),(163.55,0.3),(164.2,0),(175.5,0)]

exp_magx = [(160,0.25),(160.8,0.25),(161.3,0.18),(162.0,0.0),(162.7,-0.02),(163.4,-0.1),(164.5,-0.21),(165.6,-0.24),(166.3,-0.255),(167.4,-0.21),(168.8,-0.1),(170.2,0.024),(171.7,0.11),(173.1,0.164),(174.5,0.18),(178.1,0.18),(180.3,0.19),(181.3,0.26),(182.0,0.24),(182.5,0.2),(183.5,0.255),(184.6,0.237),(186.7,0.237),(187.4,0.38),(189.6,0.38),(192.4,0.374),(192.8,0.243),(194.6,0.237),(195.1,0.146),(196.0,0.207),(197.1,0.243),(198.2,0.255),(199.1,0.30),(199.4,0.146),(199.6,0.255),(203.2,0.249),(206.0,0.243),(208.5,0.286),(209.2,0.255),(210.2,0.176),(211.0,0.249),(213.9,0.255),(214.6,0.267),(217.5,0.274),(217.8,0.207),(218.6,0.18),(221.8,0.188),(222.5,0.231),(223.6,0.261),(226.1,0.261),(226.8,0.18),(227.5,0.261),(228.9,0.158),(230.4,0.18),(231.8,0.213),(235.4,0.225),(239.7,0.231)]
exp_magy = [(160,0.036),(160.6,0.012),(161.1,-0.134),(161.6,-0.243),(162.4,-0.255),(163.4,-0.22),(164.5,-0.134),(165.9,0.0),(167.4,0.134),(168.8,0.231),(170.2,0.255),(171.7,0.231),(173.5,0.188),(175.2,0.18),(178.1,0.18),(179.9,0.17),(180.6,0.134),(181.5,-0.05),(182.3,0.158),(183.0,0.11),(183.8,0.073),(184.6,0.097),(185.4,-0.073),(186.1,0.097),(186.8,0.207),(187.8,0.14),(188.1,0.061),(188.8,0.134),(190.3,0.091),(191.0,0.128),(192.4,0.11),(193.1,0.097),(196.0,0.091),(196.4,-0.012),(197.1,-0.122),(197.4,0.11),(198.2,0.134),(198.7,0.255),(199.1,0.043),(201.0,0.03),(205.7,0.036),(206.0,-0.097),(206.7,-0.146),(207.6,0.036),(208.5,0.055),(210.0,0.079),(211.8,0.073),(212.5,0.018),(213.2,0.012),(213.5,0.2),(214.0,-0.018),(214.8,0.18),(216.0,0.17),(217.1,0.122),(217.5,0.0),(218.6,-0.146),(219.6,-0.195),(221.1,-0.207),(222.3,-0.22),(222.6,0.012),(223.4,0.036),(224.6,0.03),(225.9,0.024),(226.4,0.085),(227.1,0.176),(227.9,0.097),(228.2,0.134),(228.9,0.049),(230.0,0.134),(230.7,0.085),(231.8,-0.036),(232.1,-0.134),(232.6,0.036),(233.9,0.049),(235.4,0.061),(236.1,0.11),(239.7,0.11)]
exp_magz = [(160,0.365),(170,0.365),(180,0.367),(184.6,0.377),(186.3,0.371),(187.0,0.267),(188.1,0.225),(189.6,0.213),(191.7,0.207),(192.6,0.207),(193.0,0.359),(194.6,0.365),(195.3,0.407),(196.4,0.389),(197.4,0.34),(198.5,0.267),(199.1,0.42),(199.4,0.322),(199.9,0.371),(203.2,0.371),(206.0,0.34),(207.5,0.359),(210.0,0.383),(211.0,0.359),(213.2,0.353),(213.5,0.292),(214.1,0.383),(214.6,0.316),(216.0,0.334),(217.8,0.377),(219.3,0.347),(221.1,0.334),(222.1,0.322),(222.8,0.371),(226.5,0.365),(227.1,0.2),(227.7,0.365),(239.7,0.36)]

inx_magx = [(84.26,0.25),(87.0,0.243),(88.1,0.225),(88.9,0.258),(89.7,0.22),(90.7,0.158),(91.5,0.235),(92.2,0.174),(93.2,0.235),(94.3,0.297),(96.3,0.32),(98.6,0.305),(100.9,0.266),(102.5,0.243),(103.2,0.282),(104.4,0.22),(105.2,0.166),(106.0,0.212),(106.7,0.028),(107.3,-0.157),(107.9,-0.049),(108.7,-0.003),(109.4,0.05),(110.6,0.166),(111.8,0.058),(112.9,0.112),(113.7,0.112),(114.9,-0.049),(115.6,-0.11),(116.4,-0.08),(117.3,-0.234),(118.3,-0.065),(119.5,-0.034),(120.3,0.043),(121.4,-0.011),(123.0,-0.034),(124.2,-0.157),(125.1,-0.249),(126.1,-0.188),(127.3,-0.111),(128.0,-0.249),(128.8,-0.157),(130.0,-0.195),(130.7,-0.157),(131.9,-0.241),(132.5,-0.188),(133.3,-0.003),(134.6,0.135),(135.4,0.258),(136.2,0.166),(136.9,0.182),(138.5,0.12),(139.6,-0.003),(140.8,0.135),(141.8,0.28),(142.7,0.212),(143.9,0.22),(145.1,0.12),(146.2,0.058),(147.0,-0.011),(147.8,0.174),(148.6,0.02),(149.3,0.289),(150.1,0.197),(150.9,0.158),(153.2,0.158),(154.7,0.166),(155.9,0.25),(156.8,0.12),(157.7,0.28),(158.6,0.212),(159.8,0.197),(161.3,0.212),(162.9,0.28),(164.4,0.174),(166.0,0.2),(169.1,0.174),(170.6,0.212),(174.5,0.243),(175.5,0.23)]
inx_magy = [(84.26,0.035),(87.0,0.035),(87.7,0.0),(88.1,-0.04),(88.9,0.074),(89.3,0.2),(90.1,0.089),(90.7,-0.07),(91.2,0.043),(92.0,0.12),(92.8,0.228),(93.6,0.258),(94.3,0.22),(95.1,0.135),(95.9,0.112),(96.7,0.105),(97.8,0.074),(100.9,0.074),(103.2,0.105),(105.2,0.058),(105.7,-0.04),(106.3,0.089),(107.1,0.074),(108.3,0.151),(109.0,0.25),(109.6,0.35),(110.2,0.297),(111.0,0.22),(111.8,0.258),(113.3,0.251),(114.1,0.29),(114.9,0.235),(115.6,0.089),(116.0,0.22),(117.3,0.197),(118.0,0.305),(118.7,0.228),(119.5,0.274),(120.3,0.297),(121.1,0.235),(122.6,0.212),(123.4,0.266),(124.2,0.105),(125.0,-0.08),(125.7,-0.034),(127.1,0.105),(127.6,-0.049),(128.8,-0.057),(130.3,-0.095),(131.5,-0.018),(132.3,-0.095),(133.3,-0.34),(134.2,-0.395),(135.0,-0.34),(135.8,-0.226),(136.9,-0.188),(138.1,-0.234),(139.6,-0.218),(141.2,-0.218),(142.0,-0.142),(143.1,-0.188),(144.3,-0.157),(145.5,-0.31),(146.2,-0.249),(147.4,-0.28),(148.6,-0.303),(149.5,-0.111),(150.5,-0.241),(151.3,-0.195),(153.2,-0.195),(154.7,-0.188),(155.5,-0.126),(156.3,0.135),(156.7,0.212),(157.3,0.182),(158.2,0.082),(159.0,0.197),(160.6,0.166),(162.1,0.197),(163.3,-0.003),(164.0,0.151),(165.2,0.143),(166.0,-0.057),(166.8,0.105),(167.9,0.05),(169.1,0.112),(169.9,0.035),(171.4,0.05),(173.7,0.05),(175.7,0.05)]
inx_magz = [(84.26,0.366),(87.0,0.374),(88.5,0.397),(89.3,0.32),(90.1,0.405),(91.2,0.397),(92.8,0.32),(93.6,0.274),(94.3,0.305),(96.3,0.305),(98.6,0.328),(101.7,0.358),(102.9,0.374),(104.4,0.41),(106.3,0.443),(107.9,0.42),(108.7,0.366),(109.4,0.305),(110.2,0.374),(111.8,0.351),(113.7,0.335),(115.6,0.41),(117.2,0.366),(118.7,0.335),(119.9,0.29),(121.1,0.382),(123.4,0.389),(125.0,0.374),(126.5,0.42),(128.0,0.351),(129.6,0.405),(131.5,0.366),(132.8,0.32),(133.8,0.243),(134.6,0.197),(135.4,0.274),(136.5,0.343),(138.1,0.366),(139.6,0.405),(141.2,0.328),(142.7,0.366),(144.6,0.382),(145.6,0.297),(146.6,0.366),(148.2,0.351),(149.3,0.32),(150.5,0.366),(152.0,0.366),(155.1,0.374),(156.3,0.382),(156.8,0.412),(157.6,0.305),(158.6,0.382),(160.6,0.366),(165.0,0.37),(170.0,0.37),(175.5,0.37)]

# tick values
exp_xticks = [150, 160, 170, 180, 190, 200, 210, 220, 230, 240]
inx_xticks = [80, 90, 100, 110, 120, 130, 140, 150, 160, 170, 180]

# ---------------- styling ----------------
sns.set_theme(style="white")
plt.rcParams["font.family"] = ["Liberation Sans", "DejaVu Sans"]
plt.rcParams["axes.unicode_minus"] = False
plt.rcParams["mathtext.fontset"] = "custom"
plt.rcParams["mathtext.rm"] = "Liberation Sans"
plt.rcParams["mathtext.it"] = "Liberation Sans:italic"

BLUE, ORANGE, YELLOW = "#0072BD", "#D95319", "#EDB120"
BG = "#F5F9FC"
INK = "#262626"
W, H = 2692, 2640

fig = plt.figure(figsize=(W / 100, H / 100), dpi=100, facecolor=BG)


def make_axes(l, t, r, b):
    return fig.add_axes([l / W, 1 - b / H, (r - l) / W, (b - t) / H])


gfmt = FuncFormatter(lambda v, p: "%g" % round(v, 6))


def panel(box, series, xlim, xticks, ylim, yticks, ylabel, ybold=True, sci=False, xpad=6):
    ax = make_axes(*box)
    ax.set_facecolor("white")
    handles = []
    for name, pts, color, lw in series:
        if pts:
            df = pd.DataFrame(pts, columns=["t", "v"])
            sns.lineplot(data=df, x="t", y="v", ax=ax, color=color, linewidth=lw,
                         sort=False, estimator=None, legend=False)
        handles.append(Line2D([], [], color=color, lw=2.5, label=name))
    ax.set_xlim(*xlim)
    ax.set_ylim(*ylim)
    ax.set_xticks(xticks)
    ax.set_yticks(yticks)
    ax.xaxis.set_major_formatter(gfmt)
    if sci:
        sf = ScalarFormatter(useMathText=True)
        sf.set_powerlimits((0, 0))
        ax.yaxis.set_major_formatter(sf)
        ax.yaxis.get_offset_text().set_fontsize(16)
    else:
        ax.yaxis.set_major_formatter(gfmt)
    ax.tick_params(axis="both", direction="in", length=8, width=0.9, color=INK,
                   top=True, right=True, labelsize=15.5, labelcolor="#111111")
    ax.tick_params(axis="x", pad=9)
    ax.tick_params(axis="y", pad=6)
    for s in ax.spines.values():
        s.set_visible(True)
        s.set_color(INK)
        s.set_linewidth(1.0)
    ax.set_xlabel("Time (s)", fontsize=16.5, labelpad=xpad, color="#111111")
    ax.set_ylabel(ylabel, fontsize=16, fontweight="bold" if ybold else "normal",
                  labelpad=7, color="#111111")
    leg = ax.legend(handles=handles, loc="upper right", fontsize=14.5, frameon=True,
                    fancybox=False, framealpha=1, edgecolor="#222222",
                    borderaxespad=0.55, handlelength=3.2, handletextpad=0.4,
                    labelspacing=0.28, borderpad=0.35)
    leg.get_frame().set_linewidth(0.9)
    ax.grid(False)
    return ax


# ---------------- left column: Experienced ----------------
XL = (150, 240)
panel((184, 153, 1263, 433), [("roll", exp_roll, BLUE, 2.0), ("pitch", exp_pitch, ORANGE, 2.0)],
      XL, exp_xticks, (-0.855, 0.815), [-0.5, 0, 0.5], "(degree)")
panel((181, 520, 1268, 795), [("local X", exp_localx, BLUE, 2.0), ("local SP X", [], ORANGE, 2.0)],
      XL, exp_xticks, (-57, 208), [-50, 0, 50, 100, 150, 200], "(m)", ybold=False)
panel((181, 880, 1263, 1183), [("local Y", exp_localy, BLUE, 2.0), ("local SP Y", [], ORANGE, 2.0)],
      XL, exp_xticks, (-251, 64), [-200, -100, 0], "(m)", ybold=False)
panel((181, 1275, 1258, 1543), [("local Z", exp_localz, BLUE, 2.0), ("local SP Z", [], ORANGE, 2.0)],
      XL, exp_xticks, (-9.75e6, 1.6e6), [-8e6, -6e6, -4e6, -2e6, 0], "(m)", ybold=False, sci=True)
panel((185, 1643, 1245, 1892), [("IMU.AccX", exp_accx, BLUE, 1.8), ("IMU.AccY", exp_accy, ORANGE, 1.8),
                                 ("IMU.AccZ", exp_accz, YELLOW, 1.6)],
      XL, exp_xticks, (-18.6, 5.1), [-15, -10, -5, 0, 5], "(m/s²)")
panel((179, 1969, 1251, 2236), [("IMU.GyroX", exp_gyrox, BLUE, 1.3), ("IMU.GyroY", exp_gyroy, ORANGE, 1.3),
                                 ("IMU.GyroZ", exp_gyroz, YELLOW, 1.6)],
      XL, exp_xticks, (-7.4, 7.7), [-5, 0, 5], "(deg/sec)")
panel((179, 2304, 1258, 2564), [("IMU.MagX", exp_magx, BLUE, 1.6), ("IMU.MagY", exp_magy, ORANGE, 1.6),
                                 ("IMU.MagZ", exp_magz, YELLOW, 1.6)],
      XL, exp_xticks, (-0.4, 0.556), [-0.2, 0, 0.2, 0.4], "(gauss)")

# ---------------- right column: Inexperienced ----------------
XR = (80, 180)
panel((1527, 163, 2652, 441), [("roll", inx_roll, BLUE, 2.0), ("pitch", inx_pitch, ORANGE, 2.0)],
      XR, inx_xticks, (-0.69, 0.69), [-0.6, -0.4, -0.2, 0, 0.2, 0.4, 0.6], "(degree)")
panel((1523, 530, 2644, 808), [("local X", inx_localx, BLUE, 2.0), ("local SP X", [], ORANGE, 2.0)],
      XR, inx_xticks, (-27, 101), [-20, 0, 20, 40, 60, 80, 100], "(m)", ybold=False)
panel((1529, 893, 2642, 1191), [("local Y", inx_localy, BLUE, 2.0), ("local SP Y", [], ORANGE, 2.0)],
      XR, inx_xticks, (-156, 31), [-150, -100, -50, 0], "(m)", ybold=False)
panel((1560, 1284, 2664, 1549), [("local Z", inx_localz, BLUE, 2.0), ("local SP Z", [], ORANGE, 2.0)],
      XR, inx_xticks, (-36, 215), [0, 50, 100, 150, 200], "(m)", ybold=False)
panel((1556, 1653, 2657, 1903), [("IMU.AccX", inx_accx, BLUE, 1.8), ("IMU.AccY", inx_accy, ORANGE, 1.8),
                                  ("IMU.AccZ", inx_accz, YELLOW, 1.6)],
      XR, inx_xticks, (-14.6, 2.7), [-10, -5, 0], "(m/s²)")
panel((1550, 1985, 2657, 2257), [("IMU.GyroX", inx_gyrox, BLUE, 1.3), ("IMU.GyroY", inx_gyroy, ORANGE, 1.3),
                                  ("IMU.GyroZ", inx_gyroz, YELLOW, 1.6)],
      XR, inx_xticks, (-10.25, 9.9), [-10, -5, 0, 5], "(deg/sec)")
panel((1544, 2327, 2652, 2583), [("IMU.MagX", inx_magx, BLUE, 1.6), ("IMU.MagY", inx_magy, ORANGE, 1.6),
                                  ("IMU.MagZ", inx_magz, YELLOW, 1.6)],
      XR, inx_xticks, (-0.57, 0.61), [-0.4, -0.2, 0, 0.2, 0.4, 0.6], "(gauss)", xpad=1)

# ---------------- headings, underline, divider ----------------
t1 = fig.text(683.5 / W, 1 - 103 / H, "Experienced", ha="center", va="baseline",
              fontsize=68, color="#00B050", family=["Lato", "DejaVu Sans"])
t2 = fig.text(2159.5 / W, 1 - 103 / H, "Inexperienced", ha="center", va="baseline",
              fontsize=68, color="#C00000", family=["Lato", "DejaVu Sans"])
fig.canvas.draw()
rend = fig.canvas.get_renderer()
for t, c in ((t1, "#00B050"), (t2, "#C00000")):
    bb = t.get_window_extent(rend)
    y = 1 - 118.5 / H
    fig.add_artist(Line2D([(bb.x0 - 4) / W, (bb.x1 + 4) / W], [y, y], color=c, lw=5.2,
                          solid_capstyle="butt", transform=fig.transFigure))

fig.add_artist(Line2D([1393 / W, 1393 / W], [0, 1 - 65 / H], color="black", lw=5.8,
                      solid_capstyle="butt", transform=fig.transFigure))

fig.savefig("out.png", dpi=100, facecolor=BG)
